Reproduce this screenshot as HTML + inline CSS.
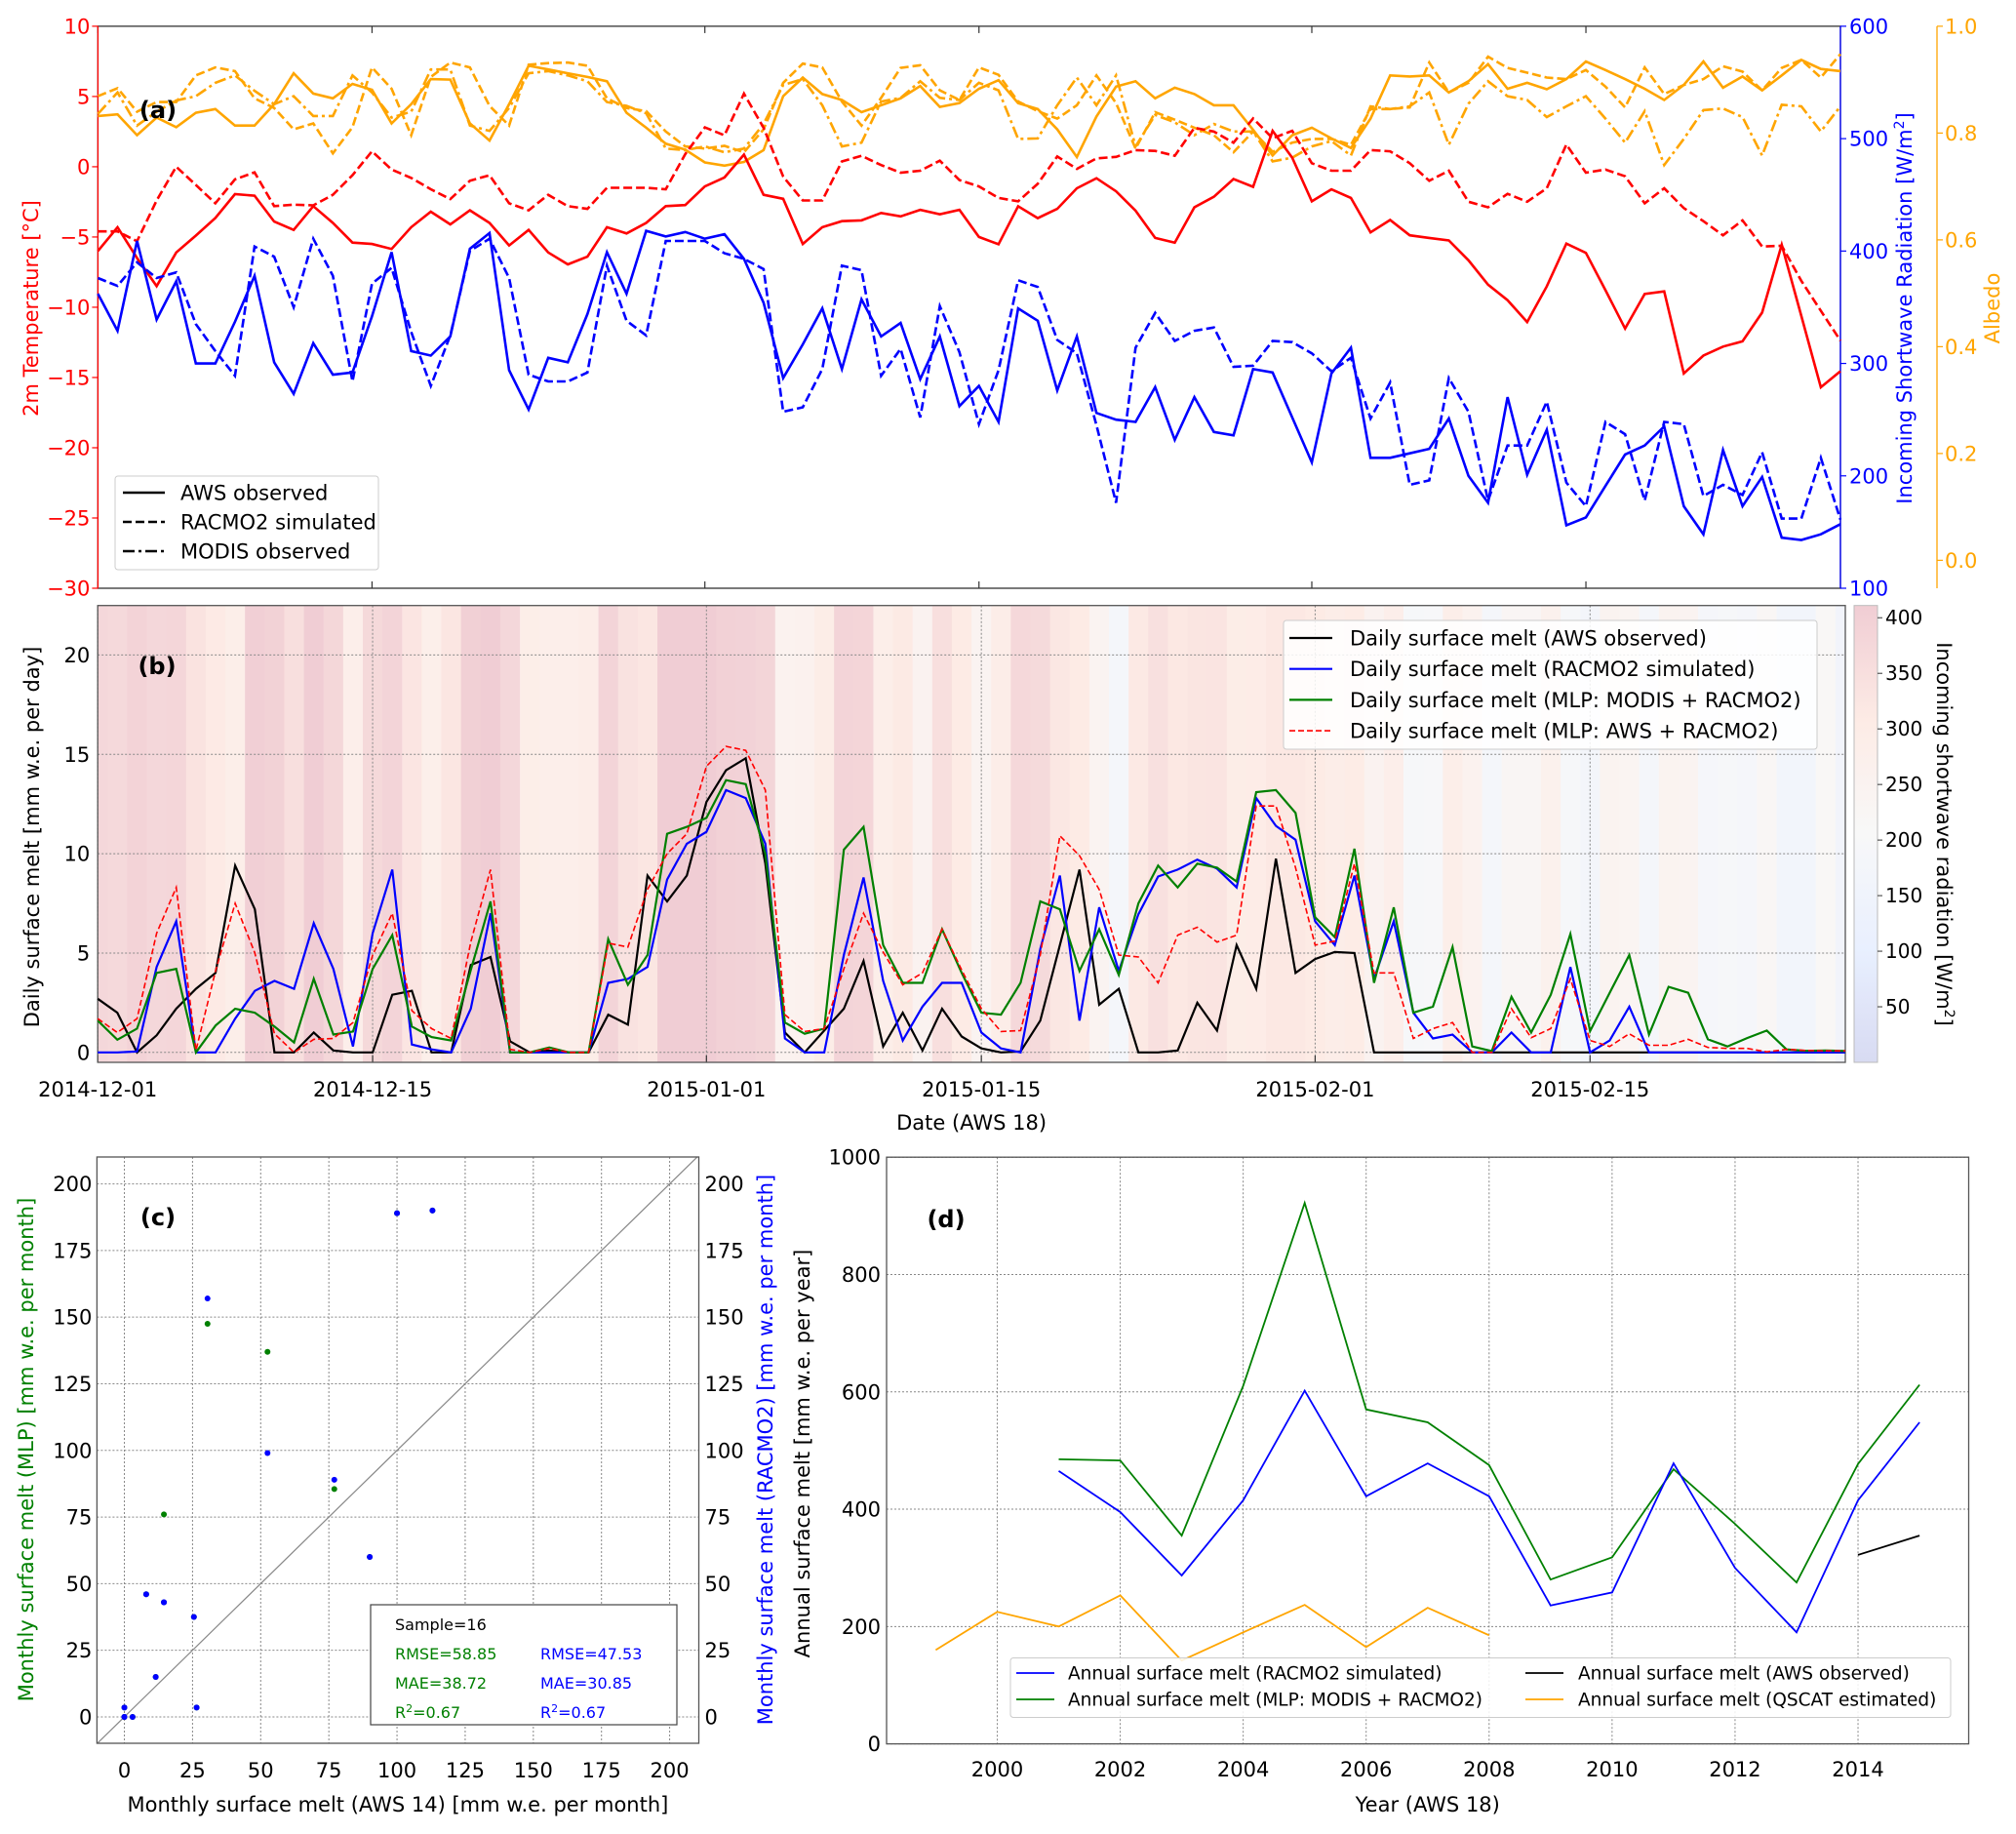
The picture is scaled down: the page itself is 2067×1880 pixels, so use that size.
<!DOCTYPE html>
<html><head><meta charset="utf-8"><title>Surface melt figure</title>
<style>
html,body{margin:0;padding:0;background:#fff;}
svg{display:block;font-family:"DejaVu Sans","Liberation Sans",sans-serif;}
</style></head>
<body>
<svg id="fig" xmlns="http://www.w3.org/2000/svg" width="2067" height="1880" viewBox="0 0 2067 1880">
<rect x="0" y="0" width="2067" height="1880" fill="#fff"/>
<g id="pa"></g>
<g id="pb"></g>
<g id="pc"></g>
<g id="pd"></g>
</svg>
<script>
// ---------- Panel (a) data (daily, 2014-12-01 .. 2015-02-28) ----------
const tempAWS=[-6.0,-4.3,-6.5,-8.5,-6.1,-4.9,-3.65,-1.95,-2.06,-3.9,-4.5,-2.8,-4.0,-5.4,-5.5,-5.85,-4.3,-3.2,-4.1,-3.1,-4.0,-5.6,-4.5,-6.1,-6.95,-6.4,-4.3,-4.75,
-4.0,-2.8,-2.73,-1.4,-0.76,0.86,-2.0,-2.28,-5.5,-4.3,-3.87,-3.82,-3.29,-3.53,-3.07,-3.39,-3.07,-5.0,-5.52,-2.81,-3.66,-3.0,-1.53,-0.82,-1.75,-3.13,-5.07,-5.41,-2.89,-2.14,-0.87,
-1.43,2.56,0.65,-2.46,-1.61,-2.22,-4.67,-3.79,-4.88,-5.07,-5.25,-6.66,-8.39,-9.5,-11.05,-8.52,-5.47,-6.13,-8.79,-11.52,-9.05,-8.87,-14.71,-13.44,-12.8,-12.43,-10.38,-5.55,-10.62,-15.7,-14.55];
const tempRAC=[-4.6,-4.6,-5.3,-2.4,0,-1.3,-2.6,-0.9,-0.4,-2.8,-2.7,-2.75,-2.0,-0.6,1.1,-0.2,-0.8,-1.6,-2.3,-1.0,-0.6,-2.6,-3.1,-2.0,-2.8,-3.0,-1.5,-1.5,
-1.5,-1.6,0.9,2.8,2.24,5.2,2.77,-0.7,-2.4,-2.4,0.38,0.78,0.12,-0.42,-0.28,0.43,-0.95,-1.4,-2.22,-2.46,-1.21,0.73,-0.15,0.59,0.7,1.18,1.13,0.78,2.77,2.5,1.71,
3.44,2.03,2.56,0.25,-0.28,-0.28,1.18,1.1,0.25,-1.0,-0.28,-2.49,-2.89,-1.93,-2.49,-1.53,1.58,-0.42,-0.2,-0.68,-2.6,-1.53,-2.94,-3.87,-4.88,-3.82,-5.68,-5.62,-8.12,-10.25,-12.38];
const swAWS=[362,329,409,339,373,300,300,337,378,301,273,318,290,292,342,399,311,307,324,402,416,294,259,305,301,344,399,362,
418,413,417,411,415,393,354,287,317,349,295,357,324,336,286,324,262,280,248,349,338,276,324,256,250,248,279,232,270,239,236,
295,292,252,212,291,314,216,216,220,224,251,200,176,270,201,241,156,163,191,219,227,244,173,148,223,173,199,145,143,148,157];
const swRAC=[376,369,390,376,381,335,311,289,404,395,350,411,378,284,371,385,328,280,325,400,411,376,290,284,284,292,387,338,
325,409,409,409,398,393,384,257,261,295,387,383,289,313,252,351,310,246,294,374,368,321,309,245,176,314,345,320,329,332,297,
298,320,319,309,293,305,251,283,192,196,287,257,178,227,227,266,194,173,248,237,178,248,246,182,192,183,221,162,162,216,161];
const albAWS=[0.832,0.835,0.796,0.829,0.811,0.838,0.845,0.814,0.814,0.854,0.912,0.874,0.865,0.892,0.881,0.818,0.854,0.901,0.900,0.818,0.786,0.854,0.926,0.919,0.912,0.905,0.897,0.838,
0.810,0.780,0.769,0.745,0.739,0.746,0.768,0.869,0.904,0.873,0.862,0.839,0.852,0.865,0.888,0.849,0.856,0.883,0.899,0.856,0.845,0.807,0.755,0.831,0.887,0.897,0.865,0.885,0.873,0.852,0.852,
0.806,0.758,0.796,0.810,0.790,0.772,0.827,0.908,0.906,0.908,0.876,0.897,0.929,0.883,0.894,0.882,0.901,0.934,0.918,0.901,0.883,0.862,0.890,0.934,0.885,0.906,0.880,0.908,0.937,0.920,0.916];
const albRAC=[0.869,0.884,0.840,0.858,0.858,0.908,0.923,0.916,0.865,0.847,0.807,0.818,0.762,0.811,0.923,0.883,0.796,0.905,0.932,0.923,0.851,0.814,0.928,0.931,0.932,0.926,0.865,0.847,
0.841,0.803,0.775,0.771,0.776,0.764,0.807,0.894,0.930,0.923,0.859,0.814,0.866,0.922,0.927,0.880,0.862,0.923,0.909,0.859,0.841,0.827,0.852,0.908,0.856,0.771,0.839,0.825,0.810,0.796,0.764,
0.803,0.765,0.782,0.789,0.789,0.778,0.845,0.845,0.848,0.932,0.876,0.894,0.943,0.922,0.913,0.904,0.901,0.918,0.887,0.848,0.923,0.873,0.890,0.901,0.925,0.915,0.880,0.922,0.937,0.904,0.948];
const albMOD=[0.836,0.876,0.814,0.840,0.861,0.869,0.894,0.908,0.879,0.854,0.869,0.832,0.832,0.908,0.876,0.829,0.840,0.919,0.919,0.814,0.804,0.847,0.912,0.916,0.908,0.897,0.858,0.851,
0.837,0.771,0.768,0.775,0.764,0.771,0.817,0.890,0.901,0.852,0.775,0.782,0.859,0.866,0.897,0.866,0.862,0.894,0.880,0.789,0.790,0.852,0.904,0.852,0.908,0.775,0.834,0.820,0.796,0.817,0.803,
0.803,0.747,0.754,0.775,0.785,0.758,0.850,0.845,0.850,0.876,0.778,0.855,0.897,0.869,0.862,0.830,0.850,0.869,0.827,0.782,0.841,0.740,0.789,0.843,0.846,0.830,0.758,0.853,0.850,0.803,0.850];
const tempTicks=[10,5,0,-5,-10,-15,-20,-25,-30];
const swTicks=[600,500,400,300,200,100];
const albTicks=[1.0,0.8,0.6,0.4,0.2,0.0];
// ---------- Panel (b) data ----------
const meltAWS=[2.7,2.0,0,0.86,2.2,3.2,4.0,9.4,7.2,0,0,1.0,0.1,0,0,2.9,3.1,0,0,4.4,4.8,0.56,0,0.1,0,0,1.9,1.4,8.9,7.6,8.9,12.6,
14.2,14.8,9.5,1.0,0,1.1,2.2,4.6,0.3,2.0,0.1,2.2,0.8,0.2,0,0.05,1.6,5.4,9.2,2.4,3.2,0,0,0.1,2.5,1.1,5.4,3.2,9.75,4.0,
4.7,5.05,5.0,0,0,0,0,0,0,0,0,0,0,0,0,0,0,0,0,0,0,0,0,0,0,0,0,0,0];
const meltRAC=[0,0,0.05,4.3,6.6,0,0,1.7,3.1,3.6,3.2,6.5,4.2,0.3,6.0,9.2,0.4,0.15,0,2.2,7.0,0,0,0,0,0,3.5,3.7,4.3,8.7,10.5,11.1,
13.2,12.8,10.5,0.7,0,0,4.9,8.8,3.6,0.6,2.3,3.5,3.5,1.0,0.2,0,5.2,8.9,1.6,7.3,4.1,6.95,8.85,9.2,9.7,9.25,8.3,12.8,11.4,10.7,
6.6,5.4,8.9,3.7,6.6,2.0,0.7,0.9,0,0,1.0,0,0,4.3,0,0.6,2.3,0,0,0,0,0,0,0,0,0,0,0];
const meltMLPmodis=[1.6,0.64,1.2,4.0,4.2,0,1.35,2.2,2.0,1.3,0.5,3.7,0.9,1.05,4.2,5.9,1.3,0.77,0.6,4.15,7.6,0,0,0.25,0,0,5.7,3.4,4.9,11.0,11.35,11.8,
13.7,13.5,10.0,1.5,0.94,1.2,10.2,11.35,5.4,3.5,3.5,6.2,4.0,2.0,1.9,3.5,7.6,7.2,4.1,6.2,3.9,7.5,9.4,8.3,9.5,9.3,8.6,13.1,13.2,12.05,
6.8,5.8,10.25,3.5,7.3,2.0,2.3,5.3,0.3,0.07,2.8,1.0,2.9,5.96,1.07,3.0,4.9,0.9,3.3,3.0,0.66,0.3,0.72,1.1,0.15,0.08,0.1,0.07];
const meltMLPaws=[1.7,1.0,1.7,6.0,8.3,0.1,4.1,7.5,5.0,0.94,0,0.66,0.7,1.5,4.9,7.0,2.1,1.2,0.7,5.55,9.2,0.15,0,0.2,0,0,5.5,5.3,8.2,10.0,11.0,14.4,
15.4,15.2,13.2,1.9,1.05,1.2,4.2,7.0,5.05,3.4,4.0,6.2,4.15,2.2,1.05,1.1,4.9,10.9,9.9,8.2,4.9,4.8,3.5,5.9,6.3,5.55,5.9,12.4,12.4,9.3,
5.4,5.6,9.5,4.0,4.0,0.7,1.2,1.5,0,0,2.2,0.74,1.2,3.7,0.6,0.3,0.94,0.36,0.36,0.66,0.25,0.2,0.2,0.03,0.15,0.1,0.08,0.08];
const meltTicks=[0,5,10,15,20];
const dateTickDays=[0,14,31,45,62,76];
const dateTickLabels=["2014-12-01","2014-12-15","2015-01-01","2015-01-15","2015-02-01","2015-02-15"];
const cbarTicks=[50,100,150,200,250,300,350,400];
// ---------- Panel (c) data ----------
const awsMonthlyG=[30.5,52.5,14.5,77,0,3,11.5,8,14.5,25.5,26.5,0,90,100,113,0];
const mlpMonthly=[147.5,137,76,85.5,3.5,0,15,46,43,37.5,3.5,0,60,189,190,0];
const awsMonthlyB=[30.5,52.5,14.5,77,0,3,11.5,8,14.5,25.5,26.5,0,90,100,113,0];
const racMonthly=[157,99,43,89,3.5,0,15,46,43,37.5,3.5,0,60,189,190,0];
const cTicks=[0,25,50,75,100,125,150,175,200];
// ---------- Panel (d) data ----------
const yearsRAC=[2001,2002,2003,2004,2005,2006,2007,2008,2009,2010,2011,2012,2013,2014,2015];
const annRAC=[465,395,287,415,602,422,478,422,236,258,478,300,190,415,548];
const annMLP=[485,483,355,610,922,570,548,475,280,318,468,375,275,477,612];
const yearsAWS=[2014,2015];
const annAWS=[322,355];
const yearsQS=[1999,2000,2001,2002,2003,2004,2005,2006,2007,2008];
const annQS=[160,225,200,253,142,190,237,165,232,185];
const dYTicks=[0,200,400,600,800,1000];
const dXTicks=[2000,2002,2004,2006,2008,2010,2012,2014];

const NS="http://www.w3.org/2000/svg";
function mk(parent,tag,attrs,name,text){
  const el=document.createElementNS(NS,tag);
  for(const k in attrs) el.setAttribute(k,attrs[k]);
  
  
  if(text!==undefined) el.textContent=text;
  parent.appendChild(el);
  return el;
}
function fmt(v){return (v<0?"\u2212":"")+Math.abs(v);}
function lin(d0,d1,p0,p1){return v=>p0+(v-d0)*(p1-p0)/(d1-d0);}
function poly(parent,xs,ys,sx,sy,style,name){
  const pts=xs.map((x,i)=>sx(x).toFixed(1)+","+sy(ys[i]).toFixed(1)).join(" ");
  const a=Object.assign({points:pts,fill:"none"},style);
  return mk(parent,"polyline",a,name);
}
const FS=21;
const days=tempAWS.map((v,i)=>i);

// ================= PANEL A =================
(function(){
const g=document.getElementById('pa');
const X0=100.4,X1=1887,Y0=26.9,Y1=603;
const sx=lin(0,89,X0,X1);
const sT=lin(10,-30,Y0,Y1);
const sR=lin(600,100,Y0,Y1);
const sA=lin(1.0,-0.0523,Y0,Y1);
mk(g,"rect",{x:X0,y:Y0,width:X1-X0,height:Y1-Y0,fill:"none",stroke:"#333","stroke-width":1.3},"plot-frame-a");
dateTickDays.forEach(d=>{
  mk(g,"line",{x1:sx(d),x2:sx(d),y1:Y0,y2:Y0+7,stroke:"#333","stroke-width":1.2},"top-tick-a");
  mk(g,"line",{x1:sx(d),x2:sx(d),y1:Y1,y2:Y1-7,stroke:"#333","stroke-width":1.2},"bottom-tick-a");
});
mk(g,"line",{x1:X0,x2:X0,y1:Y0,y2:Y1,stroke:"#ff0000","stroke-width":1.3},"temperature-axis-spine");
mk(g,"line",{x1:X1,x2:X1,y1:Y0,y2:Y1,stroke:"#0000ff","stroke-width":1.3},"radiation-axis-spine");
const XA=1986;
mk(g,"line",{x1:XA,x2:XA,y1:Y0,y2:Y1,stroke:"#ffa500","stroke-width":1.3},"albedo-axis-spine");
tempTicks.forEach(t=>{
  mk(g,"line",{x1:X0-6,x2:X0,y1:sT(t),y2:sT(t),stroke:"#ff0000","stroke-width":1.2},"temperature-tick");
  mk(g,"text",{x:X0-8,y:sT(t)+7.5,"text-anchor":"end","font-size":FS,fill:"#ff0000"},"temperature-tick-label",fmt(t));
});
swTicks.forEach(t=>{
  mk(g,"line",{x1:X1,x2:X1+6,y1:sR(t),y2:sR(t),stroke:"#0000ff","stroke-width":1.2},"radiation-tick");
  mk(g,"text",{x:X1+9,y:sR(t)+7.5,"font-size":FS,fill:"#0000ff"},"radiation-tick-label",String(t));
});
albTicks.forEach(t=>{
  mk(g,"line",{x1:XA,x2:XA+6,y1:sA(t),y2:sA(t),stroke:"#ffa500","stroke-width":1.2},"albedo-tick");
  mk(g,"text",{x:XA+8,y:sA(t)+7.5,"font-size":FS,fill:"#ffa500"},"albedo-tick-label",t.toFixed(1));
});
mk(g,"text",{x:0,y:0,"font-size":FS,fill:"#ff0000","text-anchor":"middle",transform:"translate(39,316) rotate(-90)"},"temperature-axis-title","2m Temperature [°C]");
const rl=mk(g,"text",{x:0,y:0,"font-size":FS,fill:"#0000ff","text-anchor":"middle",transform:"translate(1960,316) rotate(-90)"},"radiation-axis-title","Incoming Shortwave Radiation [W/m");
mk(rl,"tspan",{"font-size":14,dy:-8},"superscript","2");
mk(rl,"tspan",{dy:8},"bracket","]");
mk(g,"text",{x:0,y:0,"font-size":FS,fill:"#ffa500","text-anchor":"middle",transform:"translate(2050,316) rotate(-90)"},"albedo-axis-title","Albedo");
poly(g,days,albRAC,sx,sA,{stroke:"#ffa500","stroke-width":2.6,"stroke-dasharray":"9,4"},"albedo-racmo-line");
poly(g,days,albMOD,sx,sA,{stroke:"#ffa500","stroke-width":2.6,"stroke-dasharray":"12,4,3,4"},"albedo-modis-line");
poly(g,days,albAWS,sx,sA,{stroke:"#ffa500","stroke-width":2.6},"albedo-aws-line");
poly(g,days,tempRAC,sx,sT,{stroke:"#ff0000","stroke-width":2.6,"stroke-dasharray":"9,4"},"temperature-racmo-line");
poly(g,days,tempAWS,sx,sT,{stroke:"#ff0000","stroke-width":2.6},"temperature-aws-line");
poly(g,days,swRAC,sx,sR,{stroke:"#0000ff","stroke-width":2.6,"stroke-dasharray":"9,4"},"radiation-racmo-line");
poly(g,days,swAWS,sx,sR,{stroke:"#0000ff","stroke-width":2.6},"radiation-aws-line");
mk(g,"text",{x:162,y:121,"font-size":24,"font-weight":"bold","text-anchor":"middle",fill:"#000"},"panel-label-a","(a)");
const lg=mk(g,"g",{},"legend-a");
mk(lg,"rect",{x:118,y:488,width:270,height:96,rx:3,fill:"#fff","fill-opacity":0.85,stroke:"#ccc"},"legend-box-a");
const le=[["AWS observed",""],["RACMO2 simulated","9,4"],["MODIS observed","12,4,3,4"]];
le.forEach((e,i)=>{
  const y=505+i*30;
  const a={x1:126,x2:169,y1:y,y2:y,stroke:"#000","stroke-width":2.6};
  if(e[1]) a["stroke-dasharray"]=e[1];
  mk(lg,"line",a,"legend-entry-line");
  mk(lg,"text",{x:185,y:y+7.5,"font-size":FS,fill:"#000"},"legend-entry-label",e[0]);
});
})();

// ================= PANEL B =================
function coolwarm(t){
  const st=[[0,59,76,192],[0.25,144,178,254],[0.5,221,221,221],[0.75,245,156,125],[1,180,4,38]];
  t=Math.max(0,Math.min(1,t));
  for(let i=0;i<st.length-1;i++){
    if(t<=st[i+1][0]){const f=(t-st[i][0])/(st[i+1][0]-st[i][0]);
      const c=[1,2,3].map(k=>st[i][k]+f*(st[i+1][k]-st[i][k]));
      const al=0.2;return "rgb("+c.map(v=>Math.round(255*(1-al)+v*al)).join(",")+")";}
  }
  return "rgb(0,0,0)";
}
(function(){
const g=document.getElementById('pb');
const X0=100.2,X1=1892,Y0=620.7,Y1=1089;
const sx=lin(0,89,X0,X1);
const sy=lin(0,20,1078.8,671.4);
const dx=(X1-X0)/89;
const CMAX=411;
swRAC.forEach((v,i)=>{
  const l=Math.max(X0,sx(i)-dx/2),r=Math.min(X1,sx(i)+dx/2);
  mk(g,"rect",{x:l,y:Y0,width:r-l+0.5,height:Y1-Y0,fill:coolwarm(v/CMAX)},"radiation-stripe");
});
meltTicks.forEach(t=>{
  mk(g,"line",{x1:X0,x2:X1,y1:sy(t),y2:sy(t),stroke:"#888","stroke-width":1,"stroke-dasharray":"2,2"},"grid-line-b");
  mk(g,"text",{x:X0-8,y:sy(t)+7.5,"text-anchor":"end","font-size":FS,fill:"#000"},"melt-tick-label",String(t));
});
dateTickDays.forEach((d,i)=>{
  mk(g,"line",{x1:sx(d),x2:sx(d),y1:Y0,y2:Y1,stroke:"#888","stroke-width":1,"stroke-dasharray":"2,2"},"date-grid-line");
  mk(g,"line",{x1:sx(d),x2:sx(d),y1:Y1,y2:Y1-7,stroke:"#333","stroke-width":1.2},"date-tick");
  mk(g,"text",{x:sx(d),y:1124,"text-anchor":"middle","font-size":FS,fill:"#000"},"date-tick-label",dateTickLabels[i]);
});
mk(g,"rect",{x:X0,y:Y0,width:X1-X0,height:Y1-Y0,fill:"none",stroke:"#555","stroke-width":1.3},"plot-frame-b");
mk(g,"text",{x:(X0+X1)/2,y:1158,"text-anchor":"middle","font-size":FS,fill:"#000"},"x-axis-title-b","Date (AWS 18)");
mk(g,"text",{x:0,y:0,"font-size":FS,fill:"#000","text-anchor":"middle",transform:"translate(40,858) rotate(-90)"},"y-axis-title-b","Daily surface melt [mm w.e. per day]");
poly(g,days,meltAWS,sx,sy,{stroke:"#000","stroke-width":2.2},"melt-aws-line");
poly(g,days,meltRAC,sx,sy,{stroke:"#0000ff","stroke-width":2.2},"melt-racmo-line");
poly(g,days,meltMLPmodis,sx,sy,{stroke:"#008000","stroke-width":2.2},"melt-mlp-modis-line");
poly(g,days,meltMLPaws,sx,sy,{stroke:"#ff0000","stroke-width":1.6,"stroke-dasharray":"6,3"},"melt-mlp-aws-line");
mk(g,"text",{x:161,y:691,"font-size":24,"font-weight":"bold","text-anchor":"middle",fill:"#000"},"panel-label-b","(b)");
const lg=mk(g,"g",{},"legend-b");
mk(lg,"rect",{x:1316,y:636,width:547,height:132,rx:3,fill:"#fff","fill-opacity":0.85,stroke:"#ccc"},"legend-box-b");
const ent=[["Daily surface melt (AWS observed)","#000",""],["Daily surface melt (RACMO2 simulated)","#0000ff",""],["Daily surface melt (MLP: MODIS + RACMO2)","#008000",""],["Daily surface melt (MLP: AWS + RACMO2)","#ff0000","6,3"]];
ent.forEach((e,i)=>{
  const y=654+i*31.7;
  const a={x1:1322,x2:1366,y1:y,y2:y,stroke:e[1],"stroke-width":e[2]?1.6:2.2};
  if(e[2]) a["stroke-dasharray"]=e[2];
  mk(lg,"line",a,"legend-entry-line");
  mk(lg,"text",{x:1384,y:y+7.5,"font-size":FS,fill:"#000"},"legend-entry-label",e[0]);
});
const CX=1901,CW=24,CT=620.7,CB=1089;
const scb=lin(0,CMAX,CB,CT);
const defs=mk(g,"defs",{},"defs");
const lgr=mk(defs,"linearGradient",{id:"cbgrad",x1:0,y1:1,x2:0,y2:0},"colorbar-gradient");
for(let i=0;i<=20;i++){mk(lgr,"stop",{offset:(i/20),"stop-color":coolwarm(i/20)},"gradient-stop");}
mk(g,"rect",{x:CX,y:CT,width:CW,height:CB-CT,fill:"url(#cbgrad)",stroke:"#bbb","stroke-width":1},"colorbar");
cbarTicks.forEach(t=>{
  mk(g,"line",{x1:CX+CW,x2:CX+CW+5,y1:scb(t),y2:scb(t),stroke:"#333","stroke-width":1},"colorbar-tick");
  mk(g,"text",{x:CX+CW+8,y:scb(t)+7,"font-size":FS-1,fill:"#000"},"colorbar-tick-label",String(t));
});
const cl=mk(g,"text",{x:0,y:0,"font-size":FS,fill:"#000","text-anchor":"middle",transform:"translate(1986,855) rotate(90)"},"colorbar-title","Incoming shortwave radiation [W/m");
mk(cl,"tspan",{"font-size":14,dy:-8},"superscript","2");
mk(cl,"tspan",{dy:8},"bracket","]");
})();

// ================= PANEL C =================
(function(){
const g=document.getElementById('pc');
const X0=99.4,X1=716.5,Y0=1186,Y1=1787;
const sx=lin(-10.06,210.7,X0,X1);
const sy=lin(-9.9,210.1,Y1,Y0);
cTicks.forEach(t=>{
  mk(g,"line",{x1:sx(t),x2:sx(t),y1:Y0,y2:Y1,stroke:"#888","stroke-width":1,"stroke-dasharray":"2,2"},"grid-line-c-x");
  mk(g,"line",{x1:X0,x2:X1,y1:sy(t),y2:sy(t),stroke:"#888","stroke-width":1,"stroke-dasharray":"2,2"},"grid-line-c-y");
  mk(g,"text",{x:sx(t),y:1822,"text-anchor":"middle","font-size":FS,fill:"#000"},"x-tick-label-c",String(t));
  mk(g,"text",{x:X0-5,y:sy(t)+7.5,"text-anchor":"end","font-size":FS,fill:"#000"},"y-tick-label-c-left",String(t));
  mk(g,"text",{x:X1+6,y:sy(t)+7.5,"font-size":FS,fill:"#000"},"y-tick-label-c-right",String(t));
});
mk(g,"line",{x1:sx(-10),y1:sy(-10),x2:sx(210),y2:sy(210),stroke:"#888","stroke-width":1.2},"one-to-one-line");
mk(g,"rect",{x:X0,y:Y0,width:X1-X0,height:Y1-Y0,fill:"none",stroke:"#555","stroke-width":1.3},"plot-frame-c");
awsMonthlyG.forEach((x,i)=>{mk(g,"circle",{cx:sx(x),cy:sy(mlpMonthly[i]),r:3,fill:"#008000"},"scatter-point-mlp");});
awsMonthlyB.forEach((x,i)=>{mk(g,"circle",{cx:sx(x),cy:sy(racMonthly[i]),r:3,fill:"#0000ff"},"scatter-point-racmo");});
mk(g,"text",{x:162,y:1256,"font-size":24,"font-weight":"bold","text-anchor":"middle",fill:"#000"},"panel-label-c","(c)");
mk(g,"rect",{x:380,y:1645,width:314,height:123,fill:"#fff",stroke:"#444","stroke-width":1.2},"stats-box");
mk(g,"text",{x:405,y:1671,"font-size":16,fill:"#000"},"stats-sample","Sample=16");
mk(g,"text",{x:405,y:1701,"font-size":16,fill:"#008000"},"stats-rmse-mlp","RMSE=58.85");
mk(g,"text",{x:405,y:1731,"font-size":16,fill:"#008000"},"stats-mae-mlp","MAE=38.72");
const r1=mk(g,"text",{x:405,y:1761,"font-size":16,fill:"#008000"},"stats-r2-mlp","R");
mk(r1,"tspan",{"font-size":11,dy:-6},"superscript","2");mk(r1,"tspan",{dy:6},"value","=0.67");
mk(g,"text",{x:554,y:1701,"font-size":16,fill:"#0000ff"},"stats-rmse-racmo","RMSE=47.53");
mk(g,"text",{x:554,y:1731,"font-size":16,fill:"#0000ff"},"stats-mae-racmo","MAE=30.85");
const r2=mk(g,"text",{x:554,y:1761,"font-size":16,fill:"#0000ff"},"stats-r2-racmo","R");
mk(r2,"tspan",{"font-size":11,dy:-6},"superscript","2");mk(r2,"tspan",{dy:6},"value","=0.67");
mk(g,"text",{x:(X0+X1)/2,y:1857,"text-anchor":"middle","font-size":FS,fill:"#000"},"x-axis-title-c","Monthly surface melt (AWS 14) [mm w.e. per month]");
mk(g,"text",{x:0,y:0,"font-size":FS,fill:"#008000","text-anchor":"middle",transform:"translate(34,1486) rotate(-90)"},"y-axis-title-c-left","Monthly surface melt (MLP) [mm w.e. per month]");
mk(g,"text",{x:0,y:0,"font-size":FS,fill:"#0000ff","text-anchor":"middle",transform:"translate(792,1486) rotate(-90)"},"y-axis-title-c-right","Monthly surface melt (RACMO2) [mm w.e. per month]");
})();

// ================= PANEL D =================
(function(){
const g=document.getElementById('pd');
const X0=909,X1=2018.5,Y0=1186.2,Y1=1787.6;
const sx=lin(1998.2,2015.8,X0,X1);
const sy=lin(0,1000,Y1,Y0);
dXTicks.forEach(t=>{
  mk(g,"line",{x1:sx(t),x2:sx(t),y1:Y0,y2:Y1,stroke:"#888","stroke-width":1,"stroke-dasharray":"2,2"},"grid-line-d-x");
  mk(g,"text",{x:sx(t),y:1821,"text-anchor":"middle","font-size":FS,fill:"#000"},"x-tick-label-d",String(t));
});
dYTicks.forEach(t=>{
  mk(g,"line",{x1:X0,x2:X1,y1:sy(t),y2:sy(t),stroke:"#888","stroke-width":1,"stroke-dasharray":"2,2"},"grid-line-d-y");
  mk(g,"text",{x:X0-6,y:sy(t)+7.5,"text-anchor":"end","font-size":FS,fill:"#000"},"y-tick-label-d",String(t));
});
mk(g,"rect",{x:X0,y:Y0,width:X1-X0,height:Y1-Y0,fill:"none",stroke:"#555","stroke-width":1.3},"plot-frame-d");
poly(g,yearsQS,annQS,sx,sy,{stroke:"#ffa500","stroke-width":1.8},"annual-qscat-line");
poly(g,yearsRAC,annMLP,sx,sy,{stroke:"#008000","stroke-width":1.8},"annual-mlp-line");
poly(g,yearsRAC,annRAC,sx,sy,{stroke:"#0000ff","stroke-width":1.8},"annual-racmo-line");
poly(g,yearsAWS,annAWS,sx,sy,{stroke:"#000","stroke-width":1.8},"annual-aws-line");
mk(g,"text",{x:970,y:1258,"font-size":24,"font-weight":"bold","text-anchor":"middle",fill:"#000"},"panel-label-d","(d)");
const lg=mk(g,"g",{},"legend-d");
mk(lg,"rect",{x:1036,y:1699.5,width:964,height:61,rx:3,fill:"#fff","fill-opacity":0.85,stroke:"#ccc"},"legend-box-d");
const ent=[["Annual surface melt (RACMO2 simulated)","#0000ff",1042,1095,1715],["Annual surface melt (MLP: MODIS + RACMO2)","#008000",1042,1095,1742],["Annual surface melt (AWS observed)","#000",1564,1618,1715],["Annual surface melt (QSCAT estimated)","#ffa500",1564,1618,1742]];
ent.forEach(e=>{
  mk(lg,"line",{x1:e[2],x2:e[2]+39,y1:e[4],y2:e[4],stroke:e[1],"stroke-width":1.8},"legend-entry-line");
  mk(lg,"text",{x:e[3],y:e[4]+6.5,"font-size":18.5,fill:"#000"},"legend-entry-label",e[0]);
});
mk(g,"text",{x:(X0+X1)/2,y:1857,"text-anchor":"middle","font-size":FS,fill:"#000"},"x-axis-title-d","Year (AWS 18)");
mk(g,"text",{x:0,y:0,"font-size":FS,fill:"#000","text-anchor":"middle",transform:"translate(830,1490) rotate(-90)"},"y-axis-title-d","Annual surface melt [mm w.e. per year]");
})();
</script>
</body></html>
